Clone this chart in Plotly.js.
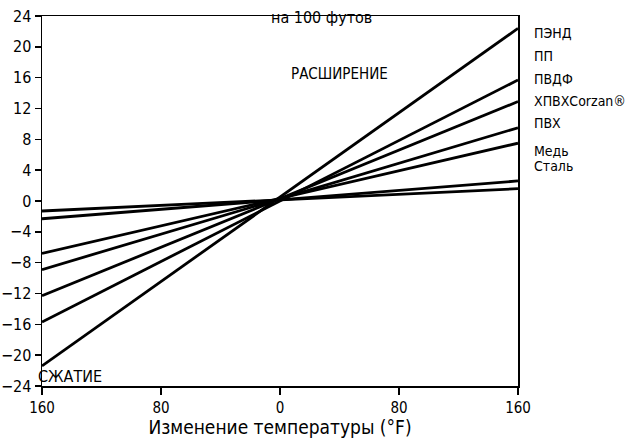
<!DOCTYPE html>
<html><head><meta charset="utf-8">
<script src="https://cdn.plot.ly/plotly-3.0.1.min.js"></script>
<style>body{margin:0;background:#fff}#c{width:629px;height:443px}</style>
</head><body><div id="c"></div>
<script>
// Materials (top to bottom) and expansion per 100 ft at ±160 °F
const materials = ["ПЭНД", "ПП", "ПВДФ", "ХПВХCorzan®", "ПВХ", "Медь", "Сталь"];
const tempEnds = [-160, 160];
const valuesAtMinus160 = [-21.4, -15.7, -12.3, -8.9, -6.8, -2.3, -1.3];
const valuesAtPlus160 = [22.4, 15.7, 12.9, 9.5, 7.5, 2.6, 1.6];
const xTickVals = [-160, -80, 0, 80, 160];
const xTickText = ["160", "80", "0", "80", "160"];
const yTickVals = [24, 20, 16, 12, 8, 4, 0, -4, -8, -12, -16, -20, -24];

const FONT = "'DejaVu Sans Condensed', 'Liberation Sans Narrow', 'Arial Narrow', sans-serif";

const traces = materials.map((m, i) => ({
  type: "scatter", mode: "lines", name: m,
  x: tempEnds, y: [valuesAtMinus160[i], valuesAtPlus160[i]],
  line: {color: "#000", width: 2.8}, showlegend: false, hoverinfo: "skip"
}));

const labelY = [33, 56, 79, 101, 123, 151, 166];
const annotations = materials.map((m, i) => ({
  text: m, xref: "paper", yref: "paper", x: 1.03, xanchor: "left",
  y: 1 - (labelY[i] - 16) / 370, yanchor: "middle", showarrow: false,
  font: {family: FONT, size: 14, color: "#000"}
}));
annotations.push(
  {text: "на 100 футов", xref: "x", yref: "paper", x: 28, y: 1 - (18 - 16) / 370, yanchor: "middle",
   showarrow: false, font: {family: FONT, size: 16, color: "#000"}},
  {text: "РАСШИРЕНИЕ", xref: "x", yref: "y", x: 40, y: 16.5, showarrow: false,
   font: {family: FONT, size: 15, color: "#000"}},
  {text: "СЖАТИЕ", xref: "paper", yref: "paper", x: (36 - 42) / 476, xanchor: "left",
   y: (386 - 376) / 370, yanchor: "middle", showarrow: false,
   font: {family: FONT, size: 16, color: "#000"}}
);

const layout = {
  width: 629, height: 443,
  margin: {l: 42, r: 111, t: 16, b: 57},
  paper_bgcolor: "#fff", plot_bgcolor: "#fff",
  font: {family: FONT, size: 15, color: "#000"},
  xaxis: {
    range: [-160, 160], tickvals: xTickVals, ticktext: xTickText,
    ticks: "outside", ticklen: 7, tickwidth: 1.5, tickcolor: "#000",
    showline: true, linecolor: "#000", linewidth: 1.5, mirror: true,
    showgrid: false, zeroline: false,
    tickfont: {family: FONT, size: 15},
    title: {text: "Изменение температуры (°F)", font: {family: FONT, size: 19}, standoff: 2}
  },
  yaxis: {
    range: [-24, 24], tickvals: yTickVals,
    ticks: "outside", ticklen: 6, tickwidth: 1.5, tickcolor: "#000",
    showline: true, linecolor: "#000", linewidth: 1.5, mirror: true,
    showgrid: false, zeroline: false,
    tickfont: {family: FONT, size: 16}
  },
  annotations: annotations
};

Plotly.newPlot("c", traces, layout, {displayModeBar: false, staticPlot: true});
</script></body></html>
